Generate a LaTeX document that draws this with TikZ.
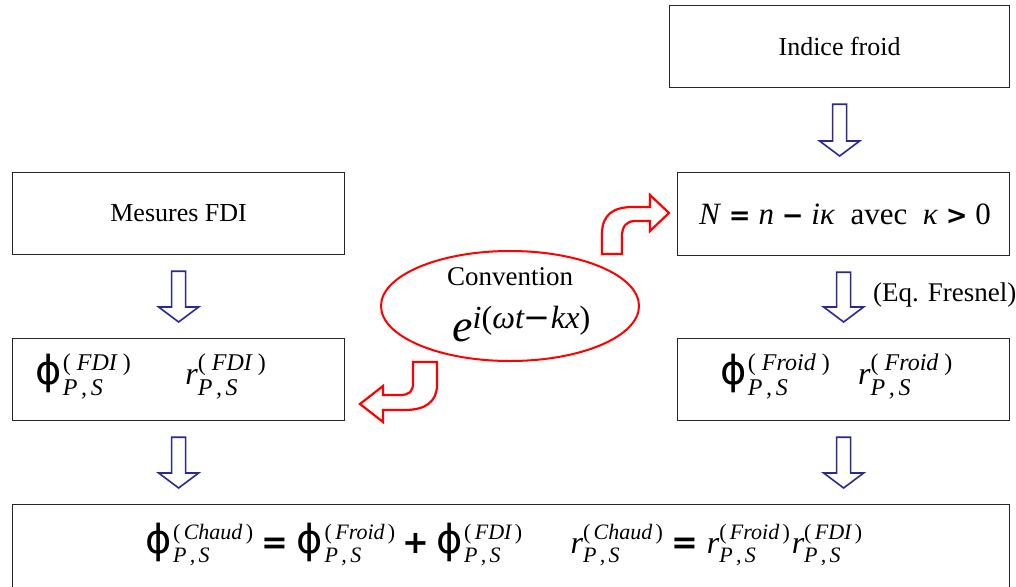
\documentclass[tikz,border=0pt]{standalone}
\usepackage{fontspec}
\usepackage{amsmath}
\setmainfont{Liberation Serif}
\newfontfamily\dv{DejaVu Sans}
\usetikzlibrary{shapes.geometric,calc}
\definecolor{arrblue}{RGB}{40,40,150}
\newcommand{\Rs}{\text{\itshape r}}
\newcommand{\Phs}{\mathord{\smash{\text{\dv\fontsize{40}{40}\selectfont ϕ}}\vphantom{\Rs}\mkern1mu}}
\newcommand{\Op}[1]{\mathbin{\text{\dv\bfseries #1}}}
\newcommand{\Orl}[1]{\mathrel{\text{\dv\bfseries #1}}}
% scripts for the small boxes
\newcommand{\PS}[2]{#1^{\text{\fontsize{24}{24}\selectfont\upshape(\hspace{0.25em}\itshape #2\hspace{0.25em}\upshape)}}_{\text{\fontsize{24}{24}\selectfont\itshape P\hspace{0.15em},\hspace{0.15em}S}}}
% scripts for the bottom box
\newcommand{\PSb}[2]{#1^{\text{\fontsize{22}{22}\selectfont\upshape(\hspace{0.15em}\itshape #2\hspace{0.15em}\upshape)}}_{\text{\fontsize{22}{22}\selectfont\itshape P\hspace{0.15em},\hspace{0.15em}S}}}
\newcommand{\bluearrow}[2]{%
  \draw[barrow] let \p1=(#1.south), \p2=(#2.north) in
  (\x1-7pt,\y1-16pt) -- (\x1+7pt,\y1-16pt) -- (\x1+7pt,\y2+31pt) --
  (\x1+20pt,\y2+31pt) -- (\x1,\y2+16pt) -- (\x1-20pt,\y2+31pt) --
  (\x1-7pt,\y2+31pt) -- cycle;}
\tikzset{
  box/.style={draw=black!85,line width=1.2pt,inner sep=0pt},
  barrow/.style={draw=arrblue,line width=1.6pt,fill=white,line join=miter},
  rarrow/.style={draw=red,line width=2.2pt,line join=miter,fill=white},
  txt/.style={inner sep=0pt}
}
\begin{document}
\begin{tikzpicture}[x=1pt,y=-1pt]
\useasboundingbox (0,0) rectangle (1016,586);
\clip (0,0) rectangle (1016,586);
\fill[white] (0,0) rectangle (1016,586);
% boxes
\node[box,minimum width=340,minimum height=82,anchor=north west] (indice) at (669,5)
  {\fontsize{26}{30}\selectfont Indice froid};
\node[box,minimum width=332,minimum height=82,anchor=north west] (mesures) at (12,172)
  {\fontsize{26}{30}\selectfont Mesures FDI};
\node[box,minimum width=332,minimum height=83,anchor=north west] (nbox) at (677,172) {};
\node[box,minimum width=332,minimum height=82,anchor=north west] (fdi) at (12,338) {};
\node[box,minimum width=332,minimum height=82,anchor=north west] (froid) at (677,338) {};
\node[box,minimum width=997,minimum height=120,anchor=north west] (chaud) at (12,504) {};
% texts
\node[txt] (neq) at (845,214) {\fontsize{31}{36}\selectfont
  \textit{N} {\dv\bfseries\fontsize{26}{30}\selectfont =} \textit{n} {\dv\bfseries\fontsize{26}{30}\selectfont −} \textit{iκ}\enspace avec\enspace \textit{κ} {\dv\bfseries\fontsize{26}{30}\selectfont >} 0};
\node[txt,anchor=base west] (fditxt) at (35,384) {\fontsize{32}{36}\selectfont
  $\PS{\Phs}{FDI}\hspace{54pt}\PS{\Rs}{FDI}$};
\node[txt,anchor=base west] (froidtxt) at (720,384) {\fontsize{32}{36}\selectfont
  $\PS{\Phs}{Froid}\hspace{28pt}\PS{\Rs}{Froid}$};
\node[txt,anchor=base] (chaudtxt) at (504,553) {\fontsize{32}{36}\selectfont
  $\PSb{\Phs}{Chaud}\mkern1mu\Orl{=}\mkern1mu\PSb{\Phs}{Froid}\mkern1mu\Op{+}\mkern1mu\PSb{\Phs}{FDI}\hspace{48pt}
   \PSb{\Rs}{Chaud}\mkern1mu\Orl{=}\mkern1mu\PSb{\Rs}{Froid}\mkern1mu\PSb{\Rs}{FDI}$};
\node[txt,anchor=west] (fresnel) at (873,295) {\fontsize{27}{30}\selectfont (Eq. Fresnel)};
% ellipse
\node[ellipse,draw=red,line width=2pt,minimum width=258,minimum height=110,inner sep=0pt] (conv) at (510,306) {};
\node[txt,anchor=base] (convtxt) at (510,285) {\fontsize{27}{30}\selectfont Convention};
\node[txt,anchor=base west] (convexp) at (452,341) {\fontsize{46}{50}\selectfont
  $\text{\itshape e}^{\text{\itshape i}\text{\upshape (}\text{\itshape ωt}\text{\dv −}\text{\itshape kx}\text{\upshape )}}$};
% blue arrows
\bluearrow{indice}{nbox}
\bluearrow{mesures}{fdi}
\bluearrow{nbox}{froid}
\bluearrow{fdi}{chaud}
\bluearrow{froid}{chaud}
% red curved arrows
\draw[rarrow] (602,254) -- (602,234) .. controls (602,214) and (614,207) .. (633,207)
  -- (650,207) -- (650,195) -- (669,213) -- (650,231) -- (650,221) -- (635,221)
  .. controls (627,221) and (622,226) .. (622,236) -- (622,254) -- cycle;
\draw[rarrow] (413,362) -- (437,362) -- (437,385) .. controls (437,402) and (425,410) .. (405,410)
  -- (383,410) -- (383,422) -- (360,404) -- (383,386) -- (383,395) -- (400,395)
  .. controls (409,395) and (413,392) .. (413,383) -- cycle;
\end{tikzpicture}
\end{document}
